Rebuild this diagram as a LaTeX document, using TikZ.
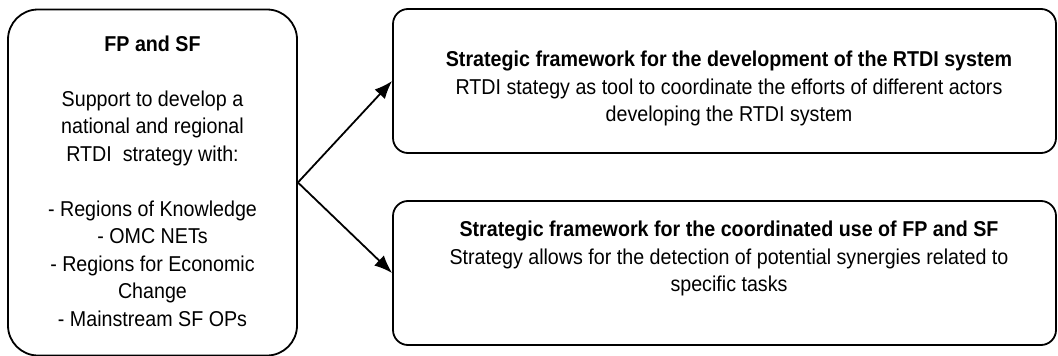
\documentclass[tikz,border=0pt]{standalone}
\usepackage{fontspec}
\setmainfont{Liberation Sans}[FakeStretch=0.915]
\usetikzlibrary{arrows.meta}
\tikzset{
  boxL/.style={draw, line width=1.8pt, rounded corners=30pt, minimum width=289pt, minimum height=346pt, inner sep=0pt},
  boxR/.style={draw, line width=1.8pt, rounded corners=15pt, minimum width=663pt, minimum height=144pt, inner sep=0pt},
  txt/.style={align=center, inner sep=0pt, font=\fontsize{21.5pt}{27.5pt}\selectfont},
  arr/.style={line width=1.8pt, -{Latex[length=18pt,width=14pt]}}
}
\begin{document}
\begin{tikzpicture}[x=1pt,y=-1pt]
\useasboundingbox (0,0) rectangle (1058,356);
\node[boxL] (L) at (152.5,182.5) {};
\node[boxR] (T) at (724.5,81) {};
\node[boxR] (B) at (724.5,273) {};
\node[txt] (Lt) at (152.5,181) {\textbf{FP and SF}\\[27.5pt]Support to develop a\\national and regional\\RTDI\ \ strategy with:\\[27.5pt]- Regions of Knowledge\\- OMC NETs\\- Regions for Economic\\Change\\- Mainstream SF OPs};
\node[txt] (Tt) at (729,88.5) {\textbf{Strategic framework for the development of the RTDI system}\\RTDI stategy as tool to coordinate the efforts of different actors\\developing the RTDI system};
\node[txt] (Bt) at (729,258.5) {\textbf{Strategic framework for the coordinated use of FP and SF}\\Strategy allows for the detection of potential synergies related to\\specific tasks};
\draw[arr] (L.east) -- (T.west);
\draw[arr] (L.east) -- (B.west);
\end{tikzpicture}
\end{document}
